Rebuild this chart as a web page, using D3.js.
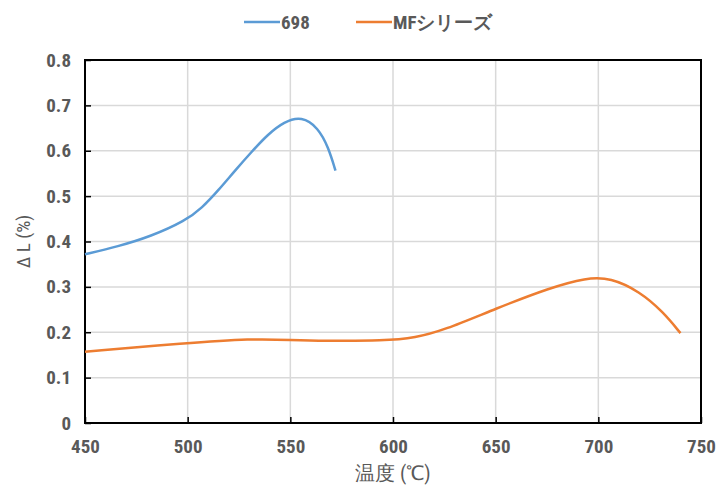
<!DOCTYPE html>
<html>
<head>
<meta charset="utf-8">
<script src="https://cdn.jsdelivr.net/npm/d3@7"></script>
<style>
  body { margin: 0; background: #fff; }
  text { font-family: "Liberation Sans Narrow", "Roboto Condensed", Roboto, sans-serif; }
</style>
</head>
<body>
<svg id="chart" width="719" height="486"></svg>
<script>
// series names
const seriesNames = ["698", "MFシリーズ"];
const seriesColors = ["#5b9bd5", "#ed7d31"];

// 698 series (temperature, ΔL %)
const temp698 = [450, 466, 482, 499, 507, 515, 523, 531, 539, 547, 555.5, 563.5, 568.5, 572];
const dl698 = [0.372, 0.389, 0.411, 0.446, 0.474, 0.513, 0.556, 0.597, 0.636, 0.664, 0.676, 0.651, 0.608, 0.556];

// MF series
const tempMF = [450, 499, 531, 551, 565, 596, 611, 624.5, 650.5, 676.5, 694, 706, 720, 731.5, 740];
const dlMF = [0.157, 0.176, 0.186, 0.183, 0.181, 0.181, 0.188, 0.204, 0.253, 0.298, 0.320, 0.320, 0.290, 0.245, 0.198];

const xTicks = [450, 500, 550, 600, 650, 700, 750];
const yTicks = [0, 0.1, 0.2, 0.3, 0.4, 0.5, 0.6, 0.7, 0.8];

const margin = { top: 60, right: 18, bottom: 63, left: 85 };
const svgWidth = 719, svgHeight = 486;
const width = svgWidth - margin.left - margin.right;
const height = svgHeight - margin.top - margin.bottom;

const svg = d3.select("#chart");
const g = svg.append("g")
    .attr("transform", "translate(" + margin.left + "," + margin.top + ")");

const x = d3.scaleLinear().domain([450, 750]).range([0, width]);
const y = d3.scaleLinear().domain([0, 0.8]).range([height, 0]);

// grid lines
g.append("g").selectAll("line.gx").data(xTicks).enter().append("line")
    .attr("x1", d => x(d)).attr("x2", d => x(d))
    .attr("y1", 0).attr("y2", height)
    .attr("stroke", "#d9d9d9").attr("stroke-width", 1.5);
g.append("g").selectAll("line.gy").data(yTicks).enter().append("line")
    .attr("x1", 0).attr("x2", width)
    .attr("y1", d => y(d)).attr("y2", d => y(d))
    .attr("stroke", "#d9d9d9").attr("stroke-width", 1.5);

// axes (ticks inside)
const xAxis = g.append("g")
    .attr("transform", "translate(0," + height + ")")
    .call(d3.axisBottom(x).tickValues(xTicks).tickSizeInner(-6).tickSizeOuter(0).tickPadding(13));
const yAxis = g.append("g")
    .call(d3.axisLeft(y).tickValues(yTicks).tickSizeInner(-6).tickSizeOuter(0).tickPadding(14)
        .tickFormat(d => d === 0 ? "0" : d3.format(".1f")(d)));

[xAxis, yAxis].forEach(a => {
    a.select(".domain").remove();
    a.selectAll(".tick line").attr("stroke", "#000").attr("stroke-width", 1.5);
    a.selectAll(".tick text")
        .attr("fill", "#595959")
        .attr("font-size", "19px")
        .attr("font-weight", "bold")
        .attr("font-family", "'Liberation Sans Narrow', 'Roboto Condensed', Roboto, sans-serif");
});
xAxis.selectAll(".tick text").attr("dy", "0.9em");

// frame
g.append("rect")
    .attr("x", 0).attr("y", 0).attr("width", width).attr("height", height)
    .attr("fill", "none").attr("stroke", "#000").attr("stroke-width", 2);

// lines (smoothed like the spreadsheet's smooth-line option)
const line = d3.line().curve(d3.curveBasis).x(d => x(d[0])).y(d => y(d[1]));
const data698 = temp698.map((t, i) => [t, dl698[i]]);
const dataMF = tempMF.map((t, i) => [t, dlMF[i]]);

g.append("path").datum(data698)
    .attr("d", line).attr("fill", "none")
    .attr("stroke", seriesColors[0]).attr("stroke-width", 2.5);
g.append("path").datum(dataMF)
    .attr("d", line).attr("fill", "none")
    .attr("stroke", seriesColors[1]).attr("stroke-width", 2.5);

// axis titles
svg.append("text")
    .attr("x", margin.left + width / 2).attr("y", 480)
    .attr("text-anchor", "middle")
    .attr("fill", "#595959").attr("font-size", "20px")
    .attr("font-family", "'Noto Sans CJK JP', sans-serif")
    .text("温度 (℃)");
svg.append("text")
    .attr("transform", "translate(30," + (margin.top + height / 2) + ") rotate(-90)")
    .attr("text-anchor", "middle")
    .attr("fill", "#595959").attr("font-size", "19px")
    .attr("font-family", "'Noto Sans CJK JP', sans-serif")
    .text("Δ L (%)");

// legend
const legendX = [244, 356];
const legend = svg.append("g");
seriesNames.forEach((name, i) => {
    legend.append("line")
        .attr("x1", legendX[i]).attr("x2", legendX[i] + 36)
        .attr("y1", 22).attr("y2", 22)
        .attr("stroke", seriesColors[i]).attr("stroke-width", 2.5);
    legend.append("text")
        .attr("x", legendX[i] + 37).attr("y", 29)
        .attr("fill", "#595959").attr("font-size", "19px").attr("font-weight", "bold")
        .attr("font-family", "'Noto Sans CJK JP', sans-serif")
        .text(name);
});
</script>
</body>
</html>
